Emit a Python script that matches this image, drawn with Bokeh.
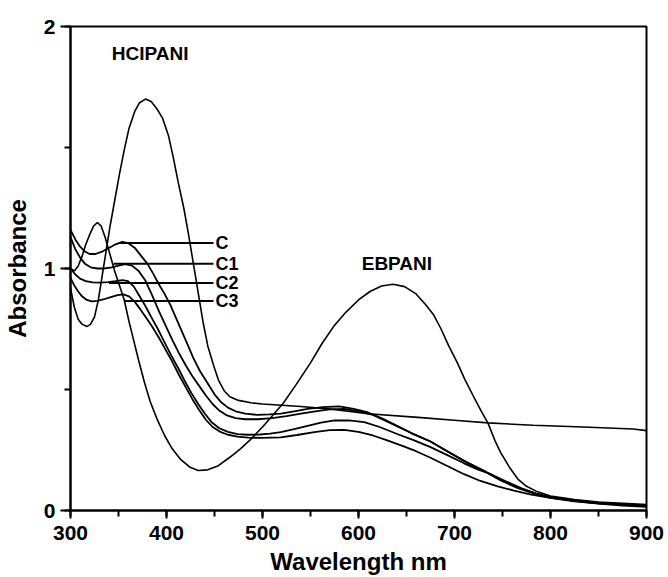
from bokeh.plotting import figure
from bokeh.models import SingleIntervalTicker, Range1d, ColumnDataSource
from bokeh.embed import file_html
from bokeh.resources import INLINE
from bokeh.core.properties import value

# ---------------- data ----------------
hcl_wl = [300, 304, 308, 312, 317, 321, 325, 329, 333, 337, 341, 346, 351, 356, 361, 367, 372, 378,
          384, 390, 396, 402, 407, 412, 418, 423, 428, 433, 438, 443, 449, 454, 460, 466, 475, 488,
          500, 540, 574, 610, 662, 703, 735, 782, 834, 886, 900]
hcl_ab = [0.92, 0.84, 0.79, 0.77, 0.76, 0.77, 0.80, 0.87, 0.97, 1.07, 1.17, 1.28, 1.39, 1.49, 1.58, 1.65, 1.685, 1.70,
          1.69, 1.66, 1.62, 1.55, 1.46, 1.36, 1.25, 1.14, 1.02, 0.90, 0.78, 0.68, 0.60, 0.54, 0.495, 0.47, 0.455, 0.445,
          0.44, 0.43, 0.418, 0.40, 0.385, 0.372, 0.362, 0.352, 0.345, 0.337, 0.33]

eb_wl = [300, 304, 308, 312, 316, 320, 324, 328, 332, 336, 341, 346, 351, 356, 361, 366, 371, 377, 383, 391,
         398, 406, 415, 424, 433, 443, 454, 466, 477, 488, 500, 511, 522, 535, 550, 562, 574, 587, 600, 612,
         624, 636, 648, 660, 670, 678, 686, 694, 703, 711, 720, 728, 735, 742, 748, 757, 766, 775, 785, 800,
         825, 850, 875, 900]
eb_ab = [1.00, 0.99, 1.01, 1.05, 1.10, 1.14, 1.175, 1.19, 1.175, 1.13, 1.06, 0.99, 0.93, 0.87, 0.78, 0.70, 0.62, 0.53, 0.45, 0.37,
         0.31, 0.255, 0.21, 0.18, 0.165, 0.168, 0.185, 0.22, 0.255, 0.295, 0.345, 0.395, 0.445, 0.52, 0.61, 0.69, 0.76, 0.82, 0.87, 0.905,
         0.928, 0.935, 0.925, 0.895, 0.85, 0.81, 0.75, 0.68, 0.61, 0.54, 0.47, 0.41, 0.36, 0.29, 0.24, 0.18, 0.13, 0.10, 0.08, 0.06,
         0.045, 0.035, 0.03, 0.025]

c_wl = [300, 305, 310, 315, 320, 326, 333, 340, 347, 354, 360, 367, 374, 380, 386, 392, 398, 404, 410, 416,
        422, 428, 435, 443, 450, 457, 464, 472, 482, 495, 507, 519, 533, 547, 563, 580, 595, 610, 625, 640,
        655, 675, 692, 710, 730, 748, 766, 785, 800, 825, 850, 875, 900]
c_ab = [1.16, 1.12, 1.09, 1.07, 1.06, 1.06, 1.07, 1.085, 1.10, 1.11, 1.105, 1.085, 1.05, 1.02, 0.98, 0.935, 0.895, 0.85, 0.795, 0.74,
        0.685, 0.63, 0.575, 0.525, 0.48, 0.447, 0.425, 0.41, 0.40, 0.395, 0.397, 0.40, 0.41, 0.42, 0.427, 0.43, 0.42, 0.405, 0.38, 0.35,
        0.32, 0.285, 0.245, 0.205, 0.165, 0.125, 0.095, 0.07, 0.055, 0.042, 0.032, 0.026, 0.02]

c1_wl = [300, 305, 310, 315, 321, 328, 335, 343, 350, 357, 364, 371, 378, 385, 392, 399, 406, 413, 420, 427,
         434, 441, 448, 455, 463, 472, 482, 495, 510, 525, 540, 555, 570, 585, 600, 615, 634, 655, 675, 695,
         712, 730, 748, 766, 785, 800, 825, 850, 875, 900]
c1_ab = [1.13, 1.08, 1.045, 1.02, 1.005, 1.0, 1.0, 1.005, 1.012, 1.018, 1.012, 0.99, 0.95, 0.89, 0.825, 0.765, 0.705, 0.65, 0.60, 0.555,
         0.515, 0.475, 0.44, 0.413, 0.393, 0.382, 0.377, 0.377, 0.382, 0.39, 0.40, 0.41, 0.418, 0.42, 0.41, 0.395, 0.36, 0.32, 0.285, 0.24,
         0.20, 0.165, 0.125, 0.092, 0.068, 0.052, 0.04, 0.03, 0.024, 0.018]

c2_wl = [300, 305, 310, 316, 323, 331, 339, 347, 354, 360, 366, 372, 378, 384, 391, 398, 405, 412, 419, 426,
         433, 440, 447, 455, 464, 474, 485, 497, 508, 519, 533, 547, 561, 575, 590, 606, 622, 641, 658, 675,
         692, 710, 724, 738, 754, 770, 785, 800, 825, 850, 875, 900]
c2_ab = [1.00, 0.975, 0.958, 0.948, 0.943, 0.942, 0.944, 0.948, 0.952, 0.948, 0.925, 0.885, 0.845, 0.80, 0.75, 0.695, 0.64, 0.59, 0.535, 0.485,
         0.44, 0.40, 0.365, 0.34, 0.325, 0.316, 0.313, 0.314, 0.318, 0.324, 0.336, 0.35, 0.363, 0.372, 0.372, 0.365, 0.345, 0.315, 0.29, 0.262,
         0.23, 0.195, 0.17, 0.15, 0.12, 0.092, 0.07, 0.055, 0.04, 0.03, 0.024, 0.018]

c3_wl = [300, 304, 308, 312, 317, 322, 328, 335, 342, 349, 355, 361, 367, 373, 379, 385, 392, 399, 406, 413,
         420, 427, 434, 441, 448, 456, 464, 474, 485, 500, 519, 536, 554, 570, 585, 600, 615, 630, 645, 660,
         675, 692, 710, 727, 745, 762, 780, 800, 825, 850, 875, 900]
c3_ab = [0.96, 0.93, 0.905, 0.885, 0.87, 0.864, 0.866, 0.873, 0.882, 0.89, 0.893, 0.885, 0.862, 0.83, 0.795, 0.76, 0.715, 0.665, 0.615, 0.56,
         0.51, 0.46, 0.415, 0.375, 0.345, 0.325, 0.313, 0.305, 0.301, 0.30, 0.302, 0.312, 0.324, 0.332, 0.333, 0.325, 0.31, 0.29, 0.268, 0.245,
         0.218, 0.185, 0.15, 0.122, 0.10, 0.082, 0.066, 0.052, 0.038, 0.028, 0.02, 0.015]

# series labels with leader lines
c_names = ["C", "C1", "C2", "C3"]
lead_x0 = [350, 345, 340, 356]
lead_x1 = [449, 449, 449, 449]
lead_y = [1.105, 1.02, 0.94, 0.866]
name_x = [451, 451, 451, 451]

peak_names = ["HCIPANI", "EBPANI"]
peak_x = [383, 640]
peak_y = [1.89, 1.02]

x_ticks_interval = 100
y_ticks_interval = 1

FONT = "Liberation Sans"

# ---------------- figure ----------------
p = figure(width=668, height=577, output_backend="svg", toolbar_location=None,
           x_range=Range1d(300, 900), y_range=Range1d(0, 2),
           min_border_left=69, min_border_right=22, min_border_top=26, min_border_bottom=66)
p.grid.visible = False
p.outline_line_color = "black"
p.outline_line_width = 2
p.background_fill_color = "white"
p.border_fill_color = "white"

p.xaxis.ticker = SingleIntervalTicker(interval=x_ticks_interval, num_minor_ticks=2)
p.yaxis.ticker = SingleIntervalTicker(interval=y_ticks_interval, num_minor_ticks=2)

for ax in (p.xaxis[0], p.yaxis[0]):
    ax.axis_line_width = 2
    ax.axis_line_color = "black"
    ax.major_tick_line_width = 2
    ax.minor_tick_line_width = 2
    ax.major_tick_line_color = "black"
    ax.minor_tick_line_color = "black"
    ax.major_tick_in = 0
    ax.minor_tick_in = 0
    ax.major_label_text_font = FONT
    ax.major_label_text_font_style = "bold"
    ax.major_label_text_font_size = "21px"
    ax.major_label_text_color = "black"
    ax.axis_label_text_font = FONT
    ax.axis_label_text_font_style = "bold"
    ax.axis_label_text_font_size = "24px"
    ax.axis_label_text_color = "black"

p.xaxis.major_tick_out = 8
p.xaxis.minor_tick_out = 6
p.xaxis.major_label_standoff = 7
p.xaxis.axis_label = "Wavelength nm"
p.xaxis.axis_label_standoff = 5

p.yaxis.major_tick_out = 10
p.yaxis.minor_tick_out = 6
p.yaxis.major_label_standoff = 5
p.yaxis.axis_label = "Absorbance"
p.yaxis.axis_label_standoff = 10

lw = 1.6
p.line(hcl_wl, hcl_ab, line_color="black", line_width=lw)
p.line(eb_wl, eb_ab, line_color="black", line_width=lw)
p.line(c_wl, c_ab, line_color="black", line_width=1.8)
p.line(c1_wl, c1_ab, line_color="black", line_width=1.8)
p.line(c2_wl, c2_ab, line_color="black", line_width=1.8)
p.line(c3_wl, c3_ab, line_color="black", line_width=1.8)

p.segment(x0=lead_x0, y0=lead_y, x1=lead_x1, y1=lead_y, line_color="black", line_width=2)

src_c = ColumnDataSource(dict(x=name_x, y=lead_y, t=c_names))
p.text(x="x", y="y", text="t", source=src_c, text_font=value(FONT), text_font_style="bold",
       text_font_size="18px", text_align="left", text_baseline="middle", text_color="black")

src_p = ColumnDataSource(dict(x=peak_x, y=peak_y, t=peak_names))
p.text(x="x", y="y", text="t", source=src_p, text_font=value(FONT), text_font_style="bold",
       text_font_size="19px", text_align="center", text_baseline="middle", text_color="black")

open("out.html", "w").write(file_html(p, INLINE))
